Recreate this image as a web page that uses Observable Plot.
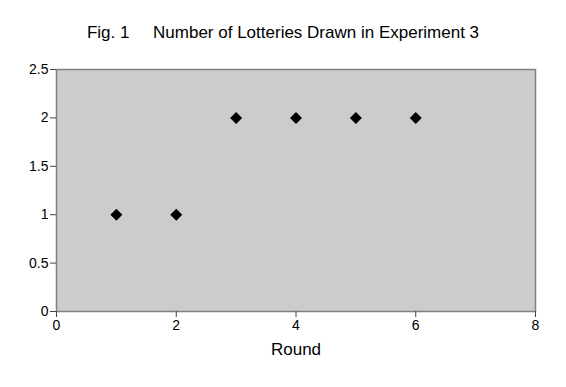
<!DOCTYPE html>
<html>
<head>
<meta charset="utf-8">
<script src="https://cdn.jsdelivr.net/npm/d3@7"></script>
<script src="https://cdn.jsdelivr.net/npm/@observablehq/plot@0.6"></script>
<style>
  html, body { margin: 0; padding: 0; background: #fff; }
  #chart svg { display: block; }
</style>
</head>
<body>
<div id="chart"></div>
<script>
const rounds = [1, 2, 3, 4, 5, 6];
const lotteries = [1, 1, 2, 2, 2, 2];
const xTicks = [0, 2, 4, 6, 8];
const yTicks = [0, 0.5, 1, 1.5, 2, 2.5];
const titleText = "Fig. 1     Number of Lotteries Drawn in Experiment 3";
const xLabel = "Round";

const data = rounds.map((r, i) => ({round: r, n: lotteries[i]}));

const chart = Plot.plot({
  width: 566,
  height: 387,
  marginLeft: 56,
  marginRight: 31,
  marginTop: 69,
  marginBottom: 76,
  style: {fontFamily: "Liberation Sans, Arial, sans-serif", background: "#fff", overflow: "visible"},
  x: {domain: [0, 8]},
  y: {domain: [0, 2.5]},
  marks: [
    Plot.frame({fill: "#cccccc", stroke: "#808080", strokeWidth: 1.5}),
    Plot.axisY({ticks: yTicks, tickSize: 6, tickPadding: 2, fontSize: 14, tickFormat: d => String(d), label: null, stroke: "#444", color: "#000"}),
    Plot.axisX({ticks: xTicks, tickSize: 6, tickPadding: 3, fontSize: 14, tickFormat: d => String(d), label: null, stroke: "#444", color: "#000"}),
    Plot.text([xLabel], {frameAnchor: "bottom", dy: 43, text: d => d, fontSize: 17, fill: "#000"}),
    Plot.dot(data, {x: "round", y: "n", symbol: "diamond2", r: 5.4, fill: "#000", stroke: "none"})
  ]
});

// Title positioned relative to the whole svg
const svg = d3.select(chart);
svg.append("text")
  .attr("x", 283)
  .attr("y", 38)
  .attr("text-anchor", "middle")
  .attr("font-size", 17)
  .attr("font-family", "Liberation Sans, Arial, sans-serif")
  .attr("fill", "#000")
  .attr("xml:space", "preserve")
  .style("white-space", "pre")
  .text(titleText);

document.getElementById("chart").appendChild(chart);
</script>
</body>
</html>
